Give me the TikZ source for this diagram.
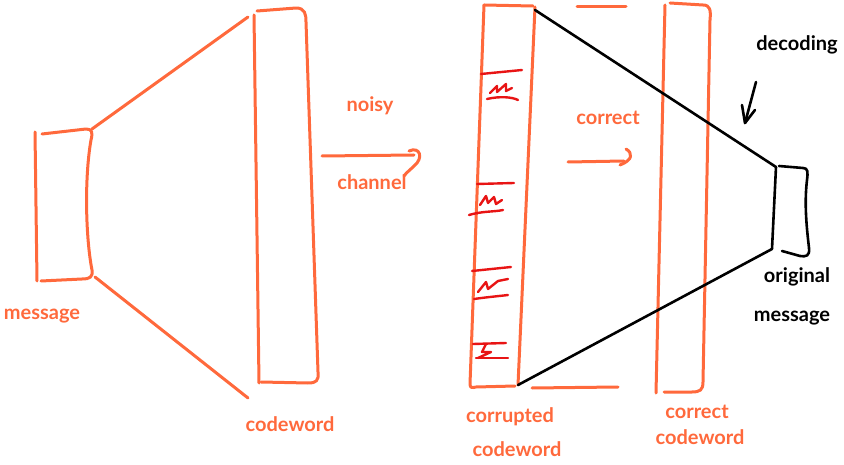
\documentclass[tikz,border=0pt]{standalone}
\usepackage{fontspec}
\setmainfont{Lato}
\definecolor{pen}{RGB}{255,105,60}
\definecolor{errred}{RGB}{232,20,20}
\begin{document}
\begin{tikzpicture}[x=1pt,y=-1pt,
  ink/.style={draw=pen,line width=3pt,line cap=round,line join=round},
  blk/.style={draw=black,line width=2.6pt,line cap=round,line join=round},
  err/.style={draw=errred,line width=2.4pt,line cap=round,line join=round},
  lbl/.style={text=pen,font=\fontsize{20}{22}\selectfont\bfseries,inner sep=0pt},
  lblk/.style={text=black,font=\fontsize{20}{22}\selectfont\bfseries,inner sep=0pt}]
\useasboundingbox (0,0) rectangle (844,465);

% message block
\coordinate (mTL) at (35,132);
\coordinate (mTR) at (92,129);
\coordinate (mBR) at (95,277);
\coordinate (mBL) at (37,281);
\draw[ink] (mTL) -- (mBL);
\draw[ink] (42,134) -- (86,129) .. controls (92,129) and (93,132) .. (91,140)
  .. controls (84,180) and (86,240) .. (92,270) .. controls (93,277) and (90,279) .. (82,279) -- (41,281);

% codeword block
\coordinate (cTL) at (248,17);
\coordinate (cBL) at (248,398);
\draw[ink] (254,15) -- (259,383);
\draw[ink] (257,11) -- (296,8) .. controls (305,8) and (306,14) .. (306,22) -- (318,372)
  .. controls (319,381) and (316,383) .. (308,383) -- (261,382);

% message -> codeword fan
\draw[ink] (mTR) -- (cTL);
\draw[ink] (mBR) -- (cBL);

% noisy channel arrow
\draw[ink] (322,156) -- (414,155);
\draw[ink] (409,151) .. controls (420,146) and (424,158) .. (414,166) .. controls (410,170) and (406,173) .. (404,176);
\node[lbl] (noisy) at (370,106) {noisy};
\node[lbl] (chan) at (372,182) {channel};

% corrupted codeword block
\draw[ink] (484,5) -- (533,6);
\draw[ink] (484,5) -- (470,384) .. controls (470,388) and (472,388) .. (476,387) -- (515,386);
\draw[ink] (535,7) -- (518,385);

% error marks
\draw[err] (481,74) -- (522,70);
\draw[err] (490,93) -- (497,86) -- (497,92) -- (506,84) -- (506,91) -- (512,88);
\draw[err] (487,99) .. controls (500,96) and (512,97) .. (518,100);
\draw[err] (477,184) -- (514,183);
\draw[err] (480,205) -- (486,196) -- (488,203) -- (494,197) -- (496,204) -- (502,200);
\draw[err] (469,215) .. controls (482,211) and (494,212) .. (503,210);
\draw[err] (472,271) -- (511,267);
\draw[err] (478,292) -- (486,282) -- (488,289) -- (498,281) -- (508,279);
\draw[err] (474,299) .. controls (488,297) and (500,296) .. (508,295);
\draw[err] (473,344) -- (506,343);
\draw[err] (486,344) -- (482,352) -- (491,352) -- (478,358);
\draw[err] (476,358) -- (508,358);

% correct arrow
\draw[ink] (568,162) -- (624,161);
\draw[ink] (626,149) .. controls (633,153) and (633,160) .. (620,165);
\node[lbl] (corr) at (608,118) {correct};

% partial outline between blocks
\draw[ink] (577,7) -- (626,7);
\draw[ink] (532,388) -- (618,387);

% correct codeword block
\draw[ink] (665,5) -- (656,393);
\draw[ink] (670,3) -- (703,5) .. controls (710,5) and (711,10) .. (710,20) -- (703,382)
  .. controls (703,390) and (700,392) .. (692,392) -- (664,392);

% original message block
\coordinate (oTL) at (776,167);
\coordinate (oBL) at (772,249);
\draw[blk] (oTL) -- (oBL);
\draw[blk] (779,166) -- (803,168) .. controls (808,168) and (808,172) .. (807,180)
  .. controls (804,205) and (807,230) .. (809,248) .. controls (810,256) and (806,257) .. (800,256) -- (782,251);

% decoding fan
\draw[blk] (535,10) -- (oTL);
\draw[blk] (518,385) -- (oBL);

% decoding arrow
\draw[blk] (756,82) -- (745,123);
\draw[blk] (742,105) -- (745,123) -- (755,110);
\node[lblk] (dec) at (797,45) {decoding};

% labels
\node[lbl] (msg) at (42,316) {message};
\node[lbl] (cw) at (290,424) {codeword};
\node[lbl] (cor1) at (510,417) {corrupted};
\node[lbl] (cor2) at (517,449) {codeword};
\node[lbl] (cc1) at (697,412) {correct};
\node[lbl] (cc2) at (700,437) {codeword};
\node[lblk] (om1) at (797,277) {original};
\node[lblk] (om2) at (792,318) {message};
\end{tikzpicture}
\end{document}
